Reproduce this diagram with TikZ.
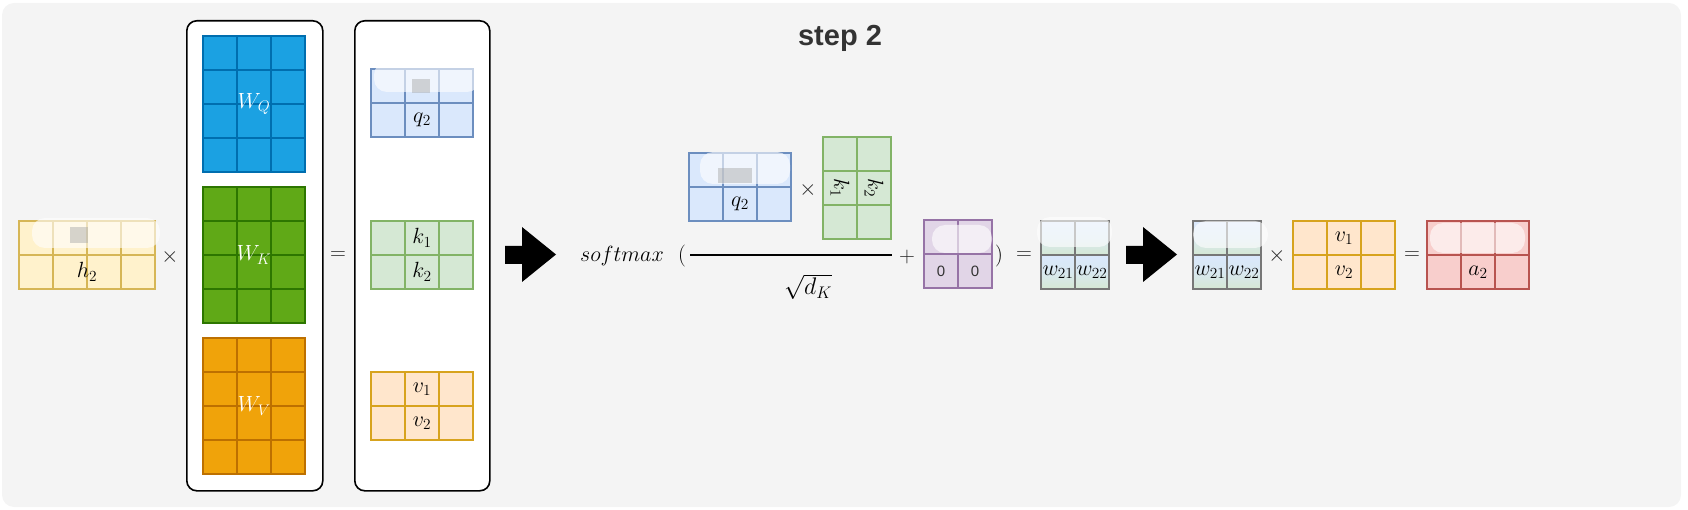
\RequirePackage{fix-cm}
\documentclass[tikz,border=0pt]{standalone}
\usepackage{fontspec}
\setsansfont{Liberation Sans}
\usetikzlibrary{calc}
\definecolor{bgc}{HTML}{F4F4F4}
\definecolor{hF}{HTML}{FFF2CC}\definecolor{hS}{HTML}{D6B656}
\definecolor{qwF}{HTML}{1BA1E2}\definecolor{qwS}{HTML}{006EAF}
\definecolor{kwF}{HTML}{60A917}\definecolor{kwS}{HTML}{2D7600}
\definecolor{vwF}{HTML}{F0A30A}\definecolor{vwS}{HTML}{BD7000}
\definecolor{qF}{HTML}{DAE8FC}\definecolor{qS}{HTML}{6C8EBF}
\definecolor{kF}{HTML}{D5E8D4}\definecolor{kS}{HTML}{82B366}
\definecolor{vF}{HTML}{FFE6CC}\definecolor{vS}{HTML}{D7A31E}
\definecolor{mF}{HTML}{E1D5E7}\definecolor{mS}{HTML}{9673A6}
\definecolor{aF}{HTML}{F8CECC}\definecolor{aS}{HTML}{B85450}
\definecolor{wS}{HTML}{777777}
\newcommand\mgrid[7]{%
  \node[mat, fill=#6, draw=#7, minimum width=#4*34pt, minimum height=#5*34pt] (#1) at (#2,#3) {};
  \foreach \i in {2,...,#4} \draw[gridline, draw=#7] ([xshift=\i*34pt-34pt]#1.north west) -- ([xshift=\i*34pt-34pt]#1.south west);
  \foreach \j in {2,...,#5} \draw[gridline, draw=#7] ([yshift=34pt-\j*34pt]#1.north west) -- ([yshift=34pt-\j*34pt]#1.north east);
}
\newcommand\wgrid[3]{%
  \foreach \i in {0,1} \foreach \j in {0,1}
    \shade[top color=qF, bottom color=kF, middle color=qF!70!kF] (#2+\i*34,#3+\j*34) rectangle (#2+\i*34+34,#3+\j*34+34);
  \node[mat, draw=wS, minimum width=68pt, minimum height=68pt] (#1) at (#2,#3) {};
  \draw[gridline, draw=wS] (#1.north) -- (#1.south);
  \draw[gridline, draw=wS] (#1.west) -- (#1.east);
}
\begin{document}
\begin{tikzpicture}[x=1pt,y=-1pt,
  mat/.style={anchor=north west, inner sep=0pt, outer sep=0pt, line width=1.2pt},
  gridline/.style={line width=1.2pt},
  panel/.style={draw=black, fill=white, line width=1.6pt, rounded corners=10pt},
  lbl/.style={inner sep=0pt, font=\fontsize{22}{26}\selectfont},
  wlbl/.style={lbl, text=white},
  op/.style={inner sep=0pt, font=\fontsize{22}{26}\selectfont, text=black!85},
  zero/.style={inner sep=0pt, font=\sffamily\fontsize{15}{18}\selectfont, text=black!80},
  blob/.style={fill=white, opacity=0.6, rounded corners=13pt},
  px/.style={fill=black!35, opacity=0.45},
  blockarrow/.style={fill=black}]
\useasboundingbox (0,0) rectangle (1688,510);
\fill[bgc, rounded corners=12pt] (2,3) rectangle (1681,507);

\node[font=\sffamily\bfseries\fontsize{29}{34}\selectfont, text=black!80, inner sep=0pt] (title) at (840,38) {step 2};

% input h
\mgrid{h}{19}{221}{4}{2}{hF}{hS}
\node[lbl] (h2) at (87,272) {$h_2$};
\fill[blob] (32,218) rectangle (160,248);
\fill[px] (70,227) rectangle (88,243);
\node[op] (x1) at (170,257) {$\times$};

% weight panel
\node[panel, minimum width=136pt, minimum height=470pt, anchor=north west] (wpanel) at (186,20) {};
\mgrid{WQ}{203}{36}{3}{4}{qwF}{qwS}
\mgrid{WK}{203}{187}{3}{4}{kwF}{kwS}
\mgrid{WV}{203}{338}{3}{4}{vwF}{vwS}
\node[wlbl] at (WQ.center) {$W_Q$};
\node[wlbl] at (WK.center) {$W_K$};
\node[wlbl] at (WV.center) {$W_V$};
\node[op] (eq1) at (338,256) {$=$};

% qkv panel
\node[panel, minimum width=135pt, minimum height=470pt, anchor=north west] (qpanel) at (354,20) {};
\mgrid{q}{371}{69}{3}{2}{qF}{qS}
\node[lbl] at (422,120) {$q_2$};
\fill[blob] (374,62) rectangle (480,92);
\fill[px] (412,79) rectangle (430,93);
\mgrid{k}{371}{221}{3}{2}{kF}{kS}
\node[lbl] at (422,238) {$k_1$};
\node[lbl] at (422,272) {$k_2$};
\mgrid{v}{371}{372}{3}{2}{vF}{vS}
\node[lbl] at (422,389) {$v_1$};
\node[lbl] at (422,423) {$v_2$};

% arrow 1
\fill[blockarrow] (505,246) -- (522,246) -- (522,227) -- (556,254.5) -- (522,282) -- (522,264) -- (505,264) -- cycle;

% softmax expression
\node[lbl, anchor=base] (sm) at (622,262) {$softmax$};
\node[lbl] (lp) at (682,256) {$($};
\mgrid{qn}{689}{153}{3}{2}{qF}{qS}
\node[lbl] at (740,204) {$q_2$};
\fill[blob] (700,152) rectangle (790,184);
\fill[px] (718,168) rectangle (752,183);
\node[op] (x2) at (808,190) {$\times$};
\mgrid{kt}{823}{137}{2}{3}{kF}{kS}
\node[lbl, rotate=-90] at (840,188) {$k_1$};
\node[lbl, rotate=-90] at (874,188) {$k_2$};
\draw[line width=1.4pt] (690,255) -- (892,255);
\node[lbl, font=\fontsize{24}{28}\selectfont] (sq) at (808,287) {$\sqrt{d_K}$};
\node[op] (plus) at (907,257) {$+$};
\mgrid{m}{924}{220}{2}{2}{mF}{mS}
\node[zero] at (941,271) {0};
\node[zero] at (975,271) {0};
\fill[blob] (932,225) rectangle (992,253);
\node[lbl] (rp) at (999,256) {$)$};
\node[op] (eq2) at (1024,256) {$=$};

% w result
\wgrid{w}{1041}{221}
\node[lbl] at (1058,272) {$w_{21}$};
\node[lbl] at (1092,272) {$w_{22}$};
\fill[blob] (1037,217) rectangle (1112,247);

% arrow 2
\fill[blockarrow] (1126,246) -- (1143,246) -- (1143,227) -- (1177,254.5) -- (1143,282) -- (1143,264) -- (1126,264) -- cycle;

\wgrid{w2}{1193}{221}
\node[lbl] at (1210,272) {$w_{21}$};
\node[lbl] at (1244,272) {$w_{22}$};
\fill[blob] (1193,221) rectangle (1268,248);
\node[op] (x3) at (1277,256) {$\times$};
\mgrid{vv}{1293}{221}{3}{2}{vF}{vS}
\node[lbl] at (1344,238) {$v_1$};
\node[lbl] at (1344,272) {$v_2$};
\node[op] (eq3) at (1412,256) {$=$};
\mgrid{a}{1427}{221}{3}{2}{aF}{aS}
\node[lbl] at (1478,272) {$a_2$};
\fill[blob] (1430,223) rectangle (1525,253);
\end{tikzpicture}
\end{document}
